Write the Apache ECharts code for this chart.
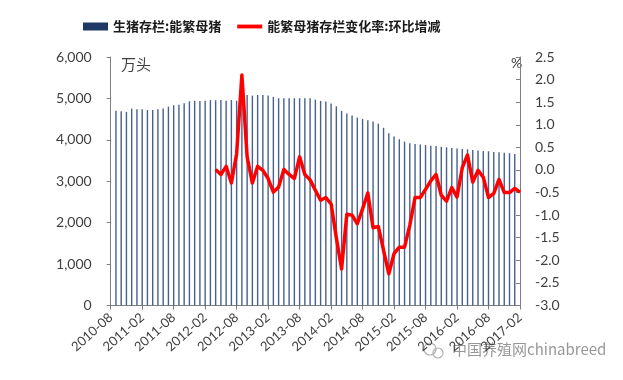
<!DOCTYPE html>
<html>
<head>
<meta charset="utf-8">
<script src="https://cdn.jsdelivr.net/npm/echarts@6/dist/echarts.min.js"></script>
<style>
html,body{margin:0;padding:0;background:#fff;}
#chart{width:623px;height:380px;}
</style>
</head>
<body>
<div id="chart"></div>
<script>
// Month labels on the category axis (every 6th is shown)
var categories = [];
(function(){
  var y = 2010, m = 8;
  for (var i = 0; i < 79; i++) {
    categories.push(y + '-' + (m < 10 ? '0' + m : '' + m));
    m++; if (m > 12) { m = 1; y++; }
  }
})();

// 生猪存栏:能繁母猪 (万头) — bars sit between the labelled months, first slot empty
var sowStock = [null,
  4705, 4690, 4675, 4755, 4740, 4740, 4720, 4720, 4740, 4755,
  4800, 4835, 4850, 4885, 4930, 4945, 4940, 4945, 4960, 4955,
  4960, 4945, 4960, 4945, 4950, 5082, 5068, 5082, 5082, 5068,
  5036, 5005, 5005, 5005, 5005, 5005, 5005, 5005, 4971, 4940,
  4923, 4875, 4811, 4698, 4633, 4585, 4536, 4505, 4473, 4440,
  4391, 4290, 4160, 4078, 4014, 3957, 3918, 3901, 3885, 3877,
  3860, 3853, 3836, 3820, 3804, 3788, 3780, 3772, 3756, 3740,
  3732, 3724, 3708, 3700, 3691, 3676, 3659,
  null];

// 能繁母猪存栏变化率:环比增减 (%)
var momChange = [null, null, null, null, null, null, null, null, null, null,
  null, null, null, null, null, null, null, null, null, null,
  0.01, -0.10, 0.08, -0.29, 0.36, 2.10, 0.29, -0.29, 0.08, -0.01,
  -0.19, -0.49, -0.38, 0.01, -0.10, -0.19, 0.29, -0.10, -0.22, -0.45,
  -0.67, -0.61, -0.75, -1.50, -2.19, -0.98, -1.00, -1.19, -0.86, -0.51,
  -1.28, -1.25, -1.78, -2.30, -1.85, -1.71, -1.71, -1.22, -0.61, -0.61,
  -0.43, -0.24, -0.10, -0.56, -0.69, -0.39, -0.60, 0.05, 0.33, -0.27,
  -0.01, -0.16, -0.61, -0.52, -0.21, -0.50, -0.50, -0.41, -0.49];

var leftTicks = {min: 0, max: 6000, interval: 1000};
var rightTicks = {min: -3, max: 2.5, interval: 0.5};

var seriesNames = ['生猪存栏:能繁母猪', '能繁母猪存栏变化率:环比增减'];

var chart = echarts.init(document.getElementById('chart'), null, {renderer: 'canvas'});
var axisFont = 'Lato, "Liberation Sans", sans-serif';
var cjkFont = '"Noto Sans CJK SC", sans-serif';

chart.setOption({
  backgroundColor: '#ffffff',
  animation: false,
  legend: {
    left: 78,
    top: 15,
    itemWidth: 25,
    itemHeight: 8,
    itemGap: 16,
    textStyle: {fontFamily: cjkFont, fontSize: 13, fontWeight: 'bold', color: '#1a1a1a'},
    data: [
      {name: seriesNames[0], icon: 'rect', itemStyle: {color: '#1f3864'}},
      {name: seriesNames[1], icon: 'path://M0,0h26v4h-26z'}
    ]
  },
  grid: {left: 110.7, right: 103, top: 57, bottom: 74.5, containLabel: false},
  xAxis: {
    type: 'category',
    data: categories,
    boundaryGap: false,
    axisLine: {lineStyle: {color: '#7f7f7f', width: 1}},
    axisTick: {interval: 5, length: 4, lineStyle: {color: '#7f7f7f'}},
    axisLabel: {interval: 5, rotate: 42, margin: 10, color: '#404040', fontSize: 13, fontFamily: axisFont},
    splitLine: {show: false}
  },
  yAxis: [
    {
      type: 'value',
      min: leftTicks.min, max: leftTicks.max, interval: leftTicks.interval,
      axisLine: {show: true, lineStyle: {color: '#7f7f7f'}},
      axisTick: {show: true, length: 4, lineStyle: {color: '#7f7f7f'}},
      axisLabel: {
        margin: 19, color: '#404040', fontSize: 14, fontFamily: axisFont,
        formatter: function(v){ return v.toLocaleString('en-US'); }
      },
      splitLine: {show: false}
    },
    {
      type: 'value',
      min: rightTicks.min, max: rightTicks.max, interval: rightTicks.interval,
      position: 'right',
      axisLine: {show: true, lineStyle: {color: '#7f7f7f'}},
      axisTick: {show: true, inside: true, length: 4, lineStyle: {color: '#7f7f7f'}},
      axisLabel: {
        margin: 15, color: '#404040', fontSize: 14, fontFamily: axisFont,
        formatter: function(v){ return v.toFixed(1); }
      },
      splitLine: {show: false}
    }
  ],
  series: [
    {
      name: seriesNames[0],
      type: 'bar',
      yAxisIndex: 0,
      data: sowStock,
      barWidth: 1.4,
      itemStyle: {color: '#46618f'},
      z: 1
    },
    {
      name: seriesNames[1],
      type: 'line',
      yAxisIndex: 1,
      data: momChange,
      symbol: 'none',
      connectNulls: false,
      lineStyle: {color: '#ff0000', width: 3.5, join: 'round'},
      itemStyle: {color: '#ff0000'},
      z: 3
    }
  ],
  graphic: [
    {type: 'text', left: 121, top: 57, style: {text: '万头', font: '15px ' + cjkFont, fill: '#404040'}},
    {type: 'text', left: 511, top: 56, style: {text: '%', font: '14px ' + axisFont, fill: '#404040'}},
    {type: 'circle', shape: {cx: 430, cy: 349, r: 6}, style: {fill: 'none', stroke: '#b0b0b0', lineWidth: 1.2}},
    {type: 'circle', shape: {cx: 438, cy: 353, r: 5}, style: {fill: 'none', stroke: '#b0b0b0', lineWidth: 1.2}},
    {type: 'text', left: 452, top: 342, style: {text: '中国养殖网chinabreed', font: '15px ' + cjkFont, fill: '#8c8c8c', opacity: 0.9}}
  ]
});
</script>
</body>
</html>
